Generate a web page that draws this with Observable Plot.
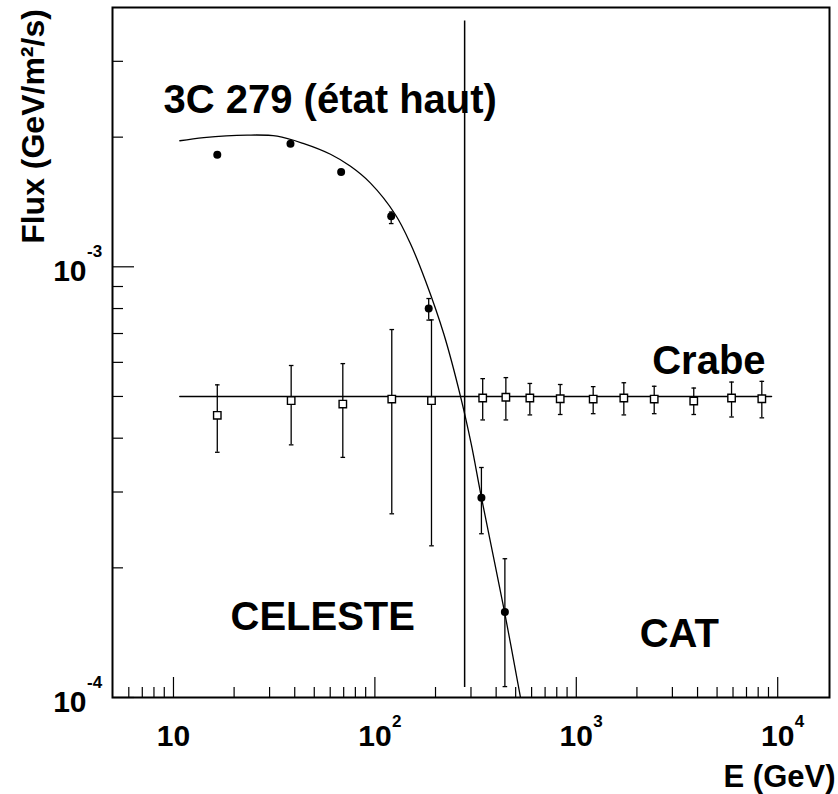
<!DOCTYPE html>
<html><head><meta charset="utf-8">
<script src="https://cdn.jsdelivr.net/npm/d3@7"></script>
<script src="https://cdn.jsdelivr.net/npm/@observablehq/plot@0.6"></script>
<style>html,body{margin:0;padding:0;background:#fff}svg{display:block}</style>
</head><body><div id="chart"></div>
<script>
// 3C 279 (high state) measured points
const srcE  = [16.5, 38.1, 68.0, 120.5, 185, 338, 442];
const srcF  = [1.82e-3, 1.93e-3, 1.66e-3, 1.31e-3, 8.0e-4, 2.91e-4, 1.58e-4];
const srcLo = [1.82e-3, 1.93e-3, 1.66e-3, 1.26e-3, 7.52e-4, 2.40e-4, 1.06e-4];
const srcHi = [1.82e-3, 1.93e-3, 1.66e-3, 1.34e-3, 8.44e-4, 3.42e-4, 2.10e-4];

// Crab points
const crabE  = [16.5, 38.4, 69.3, 121.3, 191, 343, 447, 588, 832, 1213, 1722, 2437, 3830, 5900, 8340];
const crabF  = [4.52e-4, 4.89e-4, 4.80e-4, 4.93e-4, 4.89e-4, 4.96e-4, 4.98e-4, 4.96e-4, 4.94e-4, 4.93e-4, 4.96e-4, 4.93e-4, 4.88e-4, 4.96e-4, 4.94e-4];
const crabLo = [3.71e-4, 3.86e-4, 3.61e-4, 2.67e-4, 2.25e-4, 4.41e-4, 4.41e-4, 4.53e-4, 4.54e-4, 4.56e-4, 4.53e-4, 4.56e-4, 4.54e-4, 4.48e-4, 4.46e-4];
const crabHi = [5.32e-4, 5.90e-4, 5.96e-4, 7.15e-4, 7.53e-4, 5.50e-4, 5.53e-4, 5.36e-4, 5.33e-4, 5.27e-4, 5.38e-4, 5.28e-4, 5.23e-4, 5.40e-4, 5.42e-4];

// Fitted curve for 3C 279
const fitE = [10.75, 14.14, 23.2, 32.7, 44.4, 60.2, 75.7, 95.1, 126.5, 150.2, 178.3, 219.9, 266.1, 300.8, 338.2, 440.0, 528.4];
const fitF = [1.962e-3, 1.996e-3, 2.022e-3, 2.011e-3, 1.932e-3, 1.825e-3, 1.711e-3, 1.564e-3, 1.321e-3, 1.131e-3, 9.28e-4, 6.98e-4, 5.004e-4, 3.88e-4, 2.91e-4, 1.583e-4, 1.0e-4];

// Crab flat fit
const crabFitE = [10.75, 9315];
const crabFitF = [5.0e-4, 5.0e-4];

// CELESTE / CAT threshold line
const thresholdE = [279];
const thresholdF = [1.055e-4, 3.72e-3];

// Ticks
const xMajor = [10, 100, 1000, 10000];
const xExp = ["", "2", "3", "4"];
const xMinor = [6, 7, 8, 9, 20, 30, 40, 50, 60, 70, 80, 90, 200, 300, 400, 500, 600, 700, 800, 900, 2000, 3000, 4000, 5000, 6000, 7000, 8000, 9000];
const yMajor = [1e-4, 1e-3];
const yExp = ["-4", "-3"];
const yMinor = [2e-4, 3e-4, 4e-4, 5e-4, 6e-4, 7e-4, 8e-4, 9e-4, 2e-3, 3e-3];

const src = srcE.map((e, i) => ({e, f: srcF[i], lo: srcLo[i], hi: srcHi[i]}));
const crab = crabE.map((e, i) => ({e, f: crabF[i], lo: crabLo[i], hi: crabHi[i]}));
const fit = fitE.map((e, i) => ({e, f: fitF[i]}));
const crabFit = crabFitE.map((e, i) => ({e, f: crabFitF[i]}));
const xExpTable = xMajor.map((e, i) => ({e, t: xExp[i]})).filter(d => d.t);
const yExpTable = yMajor.map((f, i) => ({f, t: yExp[i]}));
const srcErr = src.filter(d => d.hi > d.lo);

const cap = {draw(ctx) { ctx.moveTo(-2.3, 0); ctx.lineTo(2.3, 0); }};
const font = "'Liberation Sans', Arial, Helvetica, sans-serif";

const chart = Plot.plot({
  width: 838, height: 794,
  marginLeft: 112, marginRight: 9, marginTop: 7, marginBottom: 97,
  x: {type: "log", domain: [4.98, 18080], axis: null},
  y: {type: "log", domain: [1e-4, 4e-3], axis: null},
  style: {fontFamily: font, background: "white", color: "black"},
  marks: [
    Plot.tickX(xMajor, {x: d => d, insetTop: 670, stroke: "black", strokeWidth: 1.2}),
    Plot.tickX(xMinor, {x: d => d, insetTop: 680, stroke: "black", strokeWidth: 1.2}),
    Plot.tickY(yMajor, {y: d => d, insetRight: 695, stroke: "black", strokeWidth: 1.2}),
    Plot.tickY(yMinor, {y: d => d, insetRight: 706, stroke: "black", strokeWidth: 1.2}),
    Plot.frame({stroke: "black", strokeWidth: 2}),
    Plot.line(crabFit, {x: "e", y: "f", stroke: "black", strokeWidth: 1.5}),
    Plot.ruleX(thresholdE, {x: d => d, y1: thresholdF[0], y2: thresholdF[1], stroke: "black", strokeWidth: 1.5}),
    Plot.line(fit, {x: "e", y: "f", curve: "catmull-rom", stroke: "black", strokeWidth: 1.3, clip: true}),
    Plot.ruleX(crab, {x: "e", y1: "lo", y2: "hi", stroke: "black", strokeWidth: 1.3}),
    Plot.dot(crab, {x: "e", y: "lo", symbol: cap, fill: "none", stroke: "black", strokeWidth: 1.3}),
    Plot.dot(crab, {x: "e", y: "hi", symbol: cap, fill: "none", stroke: "black", strokeWidth: 1.3}),
    Plot.ruleX(srcErr, {x: "e", y1: "lo", y2: "hi", stroke: "black", strokeWidth: 1.3}),
    Plot.dot(srcErr, {x: "e", y: "lo", symbol: cap, fill: "none", stroke: "black", strokeWidth: 1.3}),
    Plot.dot(srcErr, {x: "e", y: "hi", symbol: cap, fill: "none", stroke: "black", strokeWidth: 1.3}),
    Plot.dot(crab, {x: "e", y: "f", symbol: "square", r: 4.2, fill: "white", stroke: "black", strokeWidth: 1.4}),
    Plot.dot(src, {x: "e", y: "f", r: 4, fill: "black", stroke: "none"}),
    // annotations
    Plot.text(["3C 279 (état haut)"], {x: 8.92, y: 2.27e-3, text: d => d, textAnchor: "start", lineAnchor: "bottom", fontSize: 40, fontWeight: "bold", fill: "black"}),
    Plot.text(["Crabe"], {x: 2382, y: 5.65e-4, text: d => d, textAnchor: "start", lineAnchor: "bottom", fontSize: 40, fontWeight: "bold", fill: "black"}),
    Plot.text(["CELESTE"], {x: 19.19, y: 1.434e-4, text: d => d, textAnchor: "start", lineAnchor: "bottom", fontSize: 40, fontWeight: "bold", fill: "black"}),
    Plot.text(["CAT"], {x: 2065, y: 1.311e-4, text: d => d, textAnchor: "start", lineAnchor: "bottom", fontSize: 40, fontWeight: "bold", fill: "black"}),
    // x tick labels
    Plot.text(xMajor, {x: d => d, frameAnchor: "bottom", dy: 48, text: () => "10", textAnchor: "middle", lineAnchor: "bottom", fontSize: 30, fontWeight: "bold", fill: "black"}),
    Plot.text(xExpTable, {x: "e", frameAnchor: "bottom", dx: 17, dy: 29, text: "t", textAnchor: "start", lineAnchor: "bottom", fontSize: 17, fontWeight: "bold", fill: "black"}),
    // y tick labels
    Plot.text(yMajor, {y: d => d, frameAnchor: "left", dx: -26, dy: 14, text: () => "10", textAnchor: "end", lineAnchor: "bottom", fontSize: 30, fontWeight: "bold", fill: "black"}),
    Plot.text(yExpTable, {y: "f", frameAnchor: "left", dx: -25.5, dy: -10, text: "t", textAnchor: "start", lineAnchor: "bottom", fontSize: 17, fontWeight: "bold", fill: "black"}),
    // axis titles
    Plot.text(["E (GeV)"], {frameAnchor: "bottom-right", dx: 6, dy: 89.7, text: d => d, textAnchor: "end", lineAnchor: "bottom", fontSize: 31, fontWeight: "bold", fill: "black"}),
    Plot.text(["Flux (GeV/m²/s)"], {frameAnchor: "top-left", dx: -68.7, dy: 119, rotate: -90, text: d => d, textAnchor: "middle", lineAnchor: "bottom", fontSize: 32, fontWeight: "bold", fill: "black"})
  ]
});
document.getElementById("chart").appendChild(chart);
</script>
</body></html>
